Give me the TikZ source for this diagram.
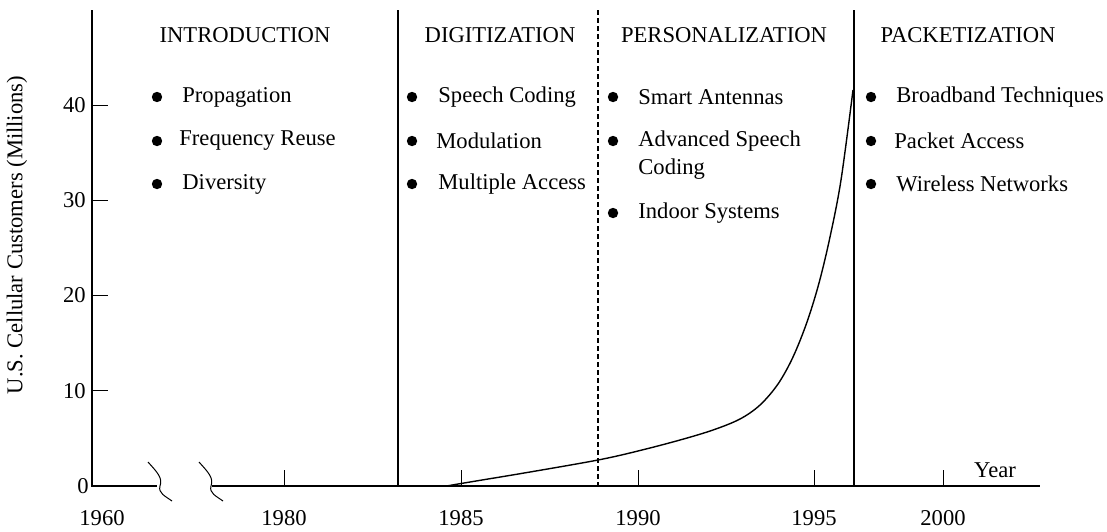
\documentclass[tikz,border=0pt]{standalone}
\usepackage{fontspec}
\setmainfont{Liberation Serif}

\begin{document}
\begin{tikzpicture}[x = 0.5pt, y = -0.5pt, font = \fontsize{11.3}{13}\selectfont]
	\tikzstyle{axisStyle} = [line width = 0.7pt]
	\tikzstyle{eraStyle} = [line width = 0.6pt]
	\tikzstyle{tickStyle} = [line width = 0.5pt]
	\tikzstyle{headStyle} = [inner sep = 0pt]
	\tikzstyle{itemStyle} = [anchor = west, inner sep = 0pt]
	\tikzstyle{dotStyle} = [shape = circle, fill, inner sep = 0pt, minimum size = 5.2pt]
	\tikzstyle{yearStyle} = [inner sep = 0pt]
	\useasboundingbox (0,0) rectangle (1107,531);
	\coordinate (ytop) at (92,10);
	\coordinate (o) at (92,486);
	\coordinate (brk1) at (157,486);
	\coordinate (brk2) at (212,486);
	\coordinate (xend) at (1040,486);
	\draw[axisStyle] (ytop) -- (o) -- (brk1);
	\draw[axisStyle] (brk2) -- (xend);
	\draw[tickStyle] (148,462) .. controls (157,472) and (163,478) .. (160,486) .. controls (158,493) and (165,496) .. (172,501);
	\draw[tickStyle] (199,462) .. controls (208,472) and (214,478) .. (211,486) .. controls (209,493) and (216,496) .. (223,501);
	\node[anchor = east, inner sep = 0pt] (y0) at (89,486) {0};
	\foreach \v/\y in {10/390.75, 20/295.5, 30/200.25, 40/105} {
		\draw[tickStyle] (92,\y) -- (108,\y);
		\node[anchor = east, inner sep = 0pt] (y\v) at (86,\y) {\v};
	}
	\node[yearStyle] (x1960) at (102,518) {1960};
	\foreach \yr/\x in {1980/284, 1985/461, 1990/638, 1995/814, 2000/943} {
		\draw[tickStyle] (\x,486) -- (\x,470);
		\node[yearStyle] (x\yr) at (\x,518) {\yr};
	}
	\node[yearStyle] (xlab) at (995,470) {Year};
	\node[rotate = 90, inner sep = 0pt] (ylab) at (17,235) {U.S. Cellular Customers (Millions)};
	\draw[eraStyle] (398,10) -- (398,486);
	\draw[eraStyle, dash pattern = on 2.5pt off 1.5pt] (598,10) -- (598,486);
	\draw[eraStyle] (854,10) -- (854,486);
	\node[headStyle] (h1) at (245,35) {INTRODUCTION};
	\node[headStyle] (h2) at (500,35) {DIGITIZATION};
	\node[headStyle] (h3) at (724,35) {PERSONALIZATION};
	\node[headStyle] (h4) at (968,35) {PACKETIZATION};
	\node[dotStyle] (d11) at (157,97) {};
	\node[dotStyle] (d12) at (157,141) {};
	\node[dotStyle] (d13) at (157,184) {};
	\node[itemStyle] (i11) at (182,97) {Propagation};
	\node[itemStyle] (i12) at (179,141) {Frequency Reuse};
	\node[itemStyle] (i13) at (182,184) {Diversity};
	\node[dotStyle] (d21) at (412,97) {};
	\node[dotStyle] (d22) at (412,141) {};
	\node[dotStyle] (d23) at (412,184) {};
	\node[itemStyle] (i21) at (438,97) {Speech Coding};
	\node[itemStyle] (i22) at (436,141) {Modulation};
	\node[itemStyle] (i23) at (438,184) {Multiple Access};
	\node[dotStyle] (d31) at (613,97) {};
	\node[dotStyle] (d32) at (613,141) {};
	\node[dotStyle] (d33) at (613,213) {};
	\node[itemStyle] (i31) at (638,97) {Smart Antennas};
	\node[itemStyle] (i32) at (638,141) {Advanced Speech};
	\node[itemStyle] (i32b) at (638,169) {Coding};
	\node[itemStyle] (i33) at (638,213) {Indoor Systems};
	\node[dotStyle] (d41) at (871,97) {};
	\node[dotStyle] (d42) at (871,141) {};
	\node[dotStyle] (d43) at (871,184) {};
	\node[itemStyle] (i41) at (896,97) {Broadband Techniques};
	\node[itemStyle] (i42) at (894,141) {Packet Access};
	\node[itemStyle] (i43) at (896,184) {Wireless Networks};
	\draw[line width = 0.7pt] plot[smooth, tension = 0.55] coordinates {(447,486) (461,483.5) (530,472) (598,460) (638,451) (680,440) (713,430) (740,419) (760,405) (778,384) (793,357) (807,322) (819,283) (830,237) (841,180) (853,90)};
\end{tikzpicture}
\end{document}
